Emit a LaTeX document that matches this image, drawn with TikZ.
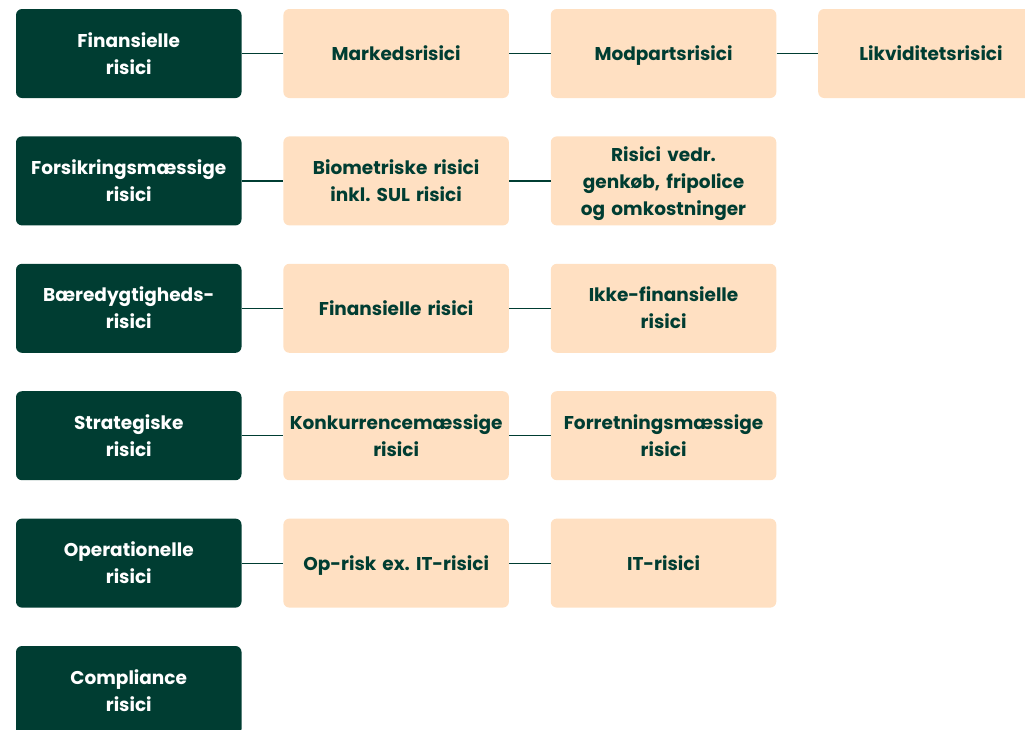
\documentclass[tikz,border=0pt]{standalone}
\usepackage{fontspec}
\setmainfont{Poppins}
\frenchspacing
\usetikzlibrary{positioning}
\definecolor{DarkClr}{HTML}{003D32}
\definecolor{LightClr}{HTML}{FFE0C2}
\newcommand{\boxstrut}{\rule[-6.3pt]{0pt}{26.8pt}}

\begin{document}
\begin{tikzpicture}[x=1pt,y=1pt,
  node distance=38pt and 41.5pt,
  box/.style={minimum width=225.5pt,minimum height=89pt,inner sep=0pt,
    text width=224pt,align=center,rounded corners=6pt,
    font=\bfseries\fontsize{18.5}{27}\selectfont,
    execute at begin node=\boxstrut,execute at end node=\boxstrut},
  cat/.style={box,fill=DarkClr,text=white},
  sub/.style={box,fill=LightClr,text=DarkClr},
  link/.style={line width=1.2pt,color=DarkClr}]
\useasboundingbox (0,0) rectangle (1025,-729);
\clip (0,0) rectangle (1025,-729);

% first column
\node[cat] (fin) at (128.75,-53.5) {Finansielle\\risici};
\node[cat,below=of fin] (fors) {Forsikringsmæssige\\risici};
\node[cat,below=of fors] (baer) {Bæredygtigheds-\\risici};
\node[cat,below=of baer] (strat) {Strategiske\\risici};
\node[cat,below=of strat] (oper) {Operationelle\\risici};
\node[cat,below=of oper] (compl) {Compliance\\risici};

% sub risks
\node[sub,right=of fin] (mark) {Markedsrisici};
\node[sub,right=of mark] (modp) {Modpartsrisici};
\node[sub,right=of modp] (likv) {Likviditetsrisici};

\node[sub,right=of fors] (biom) {Biometriske risici\\inkl. SUL risici};
\node[sub,right=of biom] (genk) {Risici vedr.\\genkøb, fripolice\\og omkostninger};

\node[sub,right=of baer] (bfin) {Finansielle risici};
\node[sub,right=of bfin] (ikke) {Ikke-finansielle\\risici};

\node[sub,right=of strat] (konk) {Konkurrencemæssige\\risici};
\node[sub,right=of konk] (forr) {Forretningsmæssige\\risici};

\node[sub,right=of oper] (oprisk) {Op-risk ex. IT-risici};
\node[sub,right=of oprisk] (it) {IT-risici};

% connectors
\draw[link] (fin) -- (mark);
\draw[link] (mark) -- (modp);
\draw[link] (modp) -- (likv);
\draw[link] (fors) -- (biom);
\draw[link] (biom) -- (genk);
\draw[link] (baer) -- (bfin);
\draw[link] (bfin) -- (ikke);
\draw[link] (strat) -- (konk);
\draw[link] (konk) -- (forr);
\draw[link] (oper) -- (oprisk);
\draw[link] (oprisk) -- (it);

\end{tikzpicture}
\end{document}
